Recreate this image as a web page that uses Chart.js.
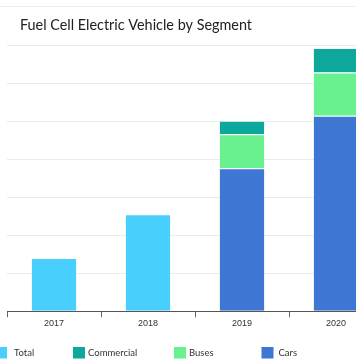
<!DOCTYPE html>
<html><head><meta charset="utf-8">
<script src="https://cdn.jsdelivr.net/npm/chart.js@4/dist/chart.umd.min.js"></script>
<style>
html,body{margin:0;padding:0;overflow:hidden;background:#fff;width:356px;height:364px}
#wrap{position:absolute;left:0;top:0;width:392px;height:364px}
</style></head><body>
<div id="wrap"><canvas id="c"></canvas></div>
<script>
const categories = ['2017', '2018', '2019', '2020'];
const totalValues = [1400, 2550, null, null];
const carsValues = [null, null, 3760, 5140];
const busesValues = [null, null, 890, 1140];
const commercialValues = [null, null, 360, 640];
const chartTitle = 'Fuel Cell Electric Vehicle by Segment';
const legendNames = ['Total', 'Commercial', 'Buses', 'Cars'];

const colors = { Total: '#48CFFD', Commercial: '#0DA89B', Buses: '#69F08F', Cars: '#3E76D3' };
const legendBoxX = [-5, 73, 174, 261.5];
const legendTextX = [14, 88, 189, 278.5];

const decor = {
  id: 'decor',
  afterDraw(chart) {
    const ctx = chart.ctx;
    ctx.save();
    ctx.strokeStyle = '#eeeeee';
    ctx.lineWidth = 1;
    ctx.beginPath(); ctx.moveTo(0, 6.5); ctx.lineTo(chart.width, 6.5); ctx.stroke();
    ctx.fillStyle = '#222';
    ctx.font = '14.4px Lato, "Open Sans", sans-serif';
    ctx.textBaseline = 'middle';
    ctx.fillText(chartTitle, 20, 25);
    ctx.font = '9.5px Lato, "Open Sans", sans-serif';
    legendNames.forEach((n, i) => {
      ctx.fillStyle = colors[n];
      ctx.fillRect(legendBoxX[i], 347, 12, 11.5);
      ctx.fillStyle = '#333';
      ctx.fillText(n, legendTextX[i], 352.5);
    });
    ctx.restore();
  }
};

const ds = (label, data) => ({
  label, data, backgroundColor: colors[label], borderColor: '#ffffff',
  borderWidth: { top: 1, left: 0, right: 0, bottom: 0 }, borderSkipped: 'start',
  categoryPercentage: 1, barPercentage: 0.475
});

new Chart(document.getElementById('c'), {
  type: 'bar',
  data: {
    labels: categories,
    datasets: [ds('Total', totalValues), ds('Cars', carsValues), ds('Buses', busesValues), ds('Commercial', commercialValues)]
  },
  options: {
    responsive: true, maintainAspectRatio: false, animation: false,
    layout: { padding: { left: 7, right: 9, top: 45, bottom: 34 } },
    plugins: { legend: { display: false }, title: { display: false }, tooltip: { enabled: false } },
    scales: {
      x: {
        stacked: true,
        grid: { offset: true, drawOnChartArea: false, drawTicks: true, tickLength: 6, color: '#666' },
        border: { color: '#555', width: 1 },
        ticks: { padding: 1, color: '#333', font: { family: '"Liberation Sans", Arial, sans-serif', size: 9 } }
      },
      y: {
        stacked: true, min: 0, max: 7000,
        ticks: { display: false, stepSize: 1000 },
        grid: { color: '#ebebeb', drawTicks: false },
        border: { display: false },
        afterFit: s => { s.width = 0; }
      }
    }
  },
  plugins: [decor]
});
</script>
</body></html>
